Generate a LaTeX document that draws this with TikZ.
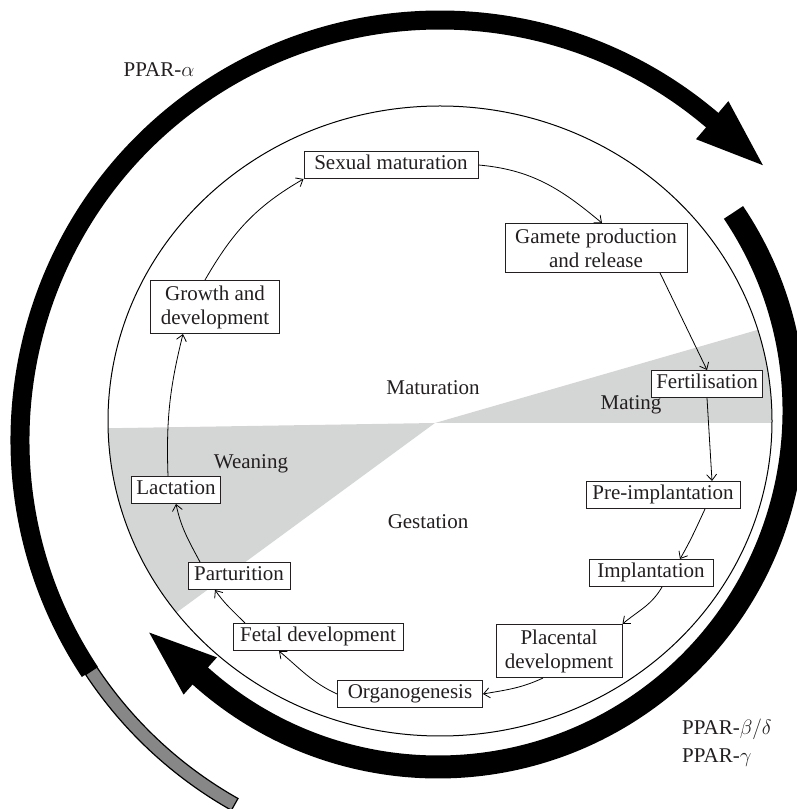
\documentclass[tikz,border=0pt]{standalone}
\usepackage{fontspec}
\setmainfont{Liberation Serif}
\usetikzlibrary{arrows.meta}
\definecolor{inkgray}{RGB}{35,31,32}
\definecolor{wedgegray}{RGB}{212,214,213}
\definecolor{bandgray}{RGB}{135,135,135}

\begin{document}
\begin{tikzpicture}
  [
    x=1pt, y=1pt,
    >={Straight Barb[length=6pt,width=10pt]},
    every node/.style={font=\fontsize{21}{24}\selectfont},
    stage box/.style={draw=inkgray, line width=1pt, fill=white, text=inkgray, inner xsep=2pt, inner ysep=3.5pt, text height=15pt, text depth=5pt},
    stage pair/.style={draw=inkgray, line width=1pt, fill=white, text=inkgray, inner xsep=2pt, inner ysep=5pt, align=center},
    phase/.style={text=inkgray, inner sep=0pt},
    link/.style={->, line width=0.8pt},
  ]
  \useasboundingbox (0,0) rectangle (796,809);

  % shaded wedges
  \begin{scope}
    \clip (440,388) ellipse [x radius=332, y radius=315];
    \fill [wedgegray] (435,386) -- (60,380) -- (60,111) -- cycle;
    \fill [wedgegray] (435,386) -- (830,500) -- (830,386) -- cycle;
  \end{scope}
  \draw [line width=1pt] (440,388) ellipse [x radius=332, y radius=315];

  % outer arrows
  \begin{scope}[shift={(440,369)}]
    \filldraw [fill=bandgray, line width=1.2pt] (240.6:411.5) arc [start angle=240.6, end angle=213.5, radius=411.5] -- (213.5:425) arc [start angle=213.5, end angle=240.6, radius=425] -- cycle;
    \draw [line width=19pt] (213.5:420) arc [start angle=213.5, end angle=49, radius=420];
    \fill (49.6:395) -- (40.4:424) -- (49.6:445) -- cycle;
  \end{scope}
  \begin{scope}[shift={(438,398)}]
    \draw [line width=23pt] (33.9:356) arc [start angle=33.9, end angle=-132.3, radius=356];
    \fill (-131.9:331) -- (-142.5:364) -- (-131.9:381) -- cycle;
  \end{scope}

  % stages
  \node [stage box, minimum width=174pt] (sexmat) at (391,644) {Sexual maturation};
  \node [stage pair, minimum width=182pt] (gamete) at (596,561) {Gamete production\\and release};
  \node [stage box, minimum width=111pt] (fert) at (707,425) {Fertilisation};
  \node [stage box, minimum width=154pt] (preimp) at (663,314) {Pre-implantation};
  \node [stage box, minimum width=124pt] (implant) at (651,236) {Implantation};
  \node [stage pair, minimum width=126pt] (placent) at (559,158) {Placental\\development};
  \node [stage box, minimum width=145pt] (organo) at (410,115) {Organogenesis};
  \node [stage box, minimum width=170pt] (fetal) at (318,172) {Fetal development};
  \node [stage box, minimum width=102pt] (partur) at (239,233) {Parturition};
  \node [stage box, minimum width=89pt] (lact) at (176,319) {Lactation};
  \node [stage pair, minimum width=129pt] (growth) at (215,502) {Growth and\\development};

  % phases
  \node [phase] (matur) at (433,421) {Maturation};
  \node [phase] (mating) at (631,404) {Mating};
  \node [phase] (wean) at (251,345) {Weaning};
  \node [phase] (gest) at (428,287) {Gestation};
  \node [phase] (ppara) at (159,739) {PPAR-$\alpha$};
  \node [phase, anchor=west, align=left, font=\fontsize{21}{28}\selectfont] (pparbg) at (682,66) {PPAR-$\beta/\delta$\\PPAR-$\gamma$};

  % cycle
  \draw [link] ([xshift=-10pt]growth.north) to [out=60, in=210] (sexmat.south west);
  \draw [link] (sexmat.east) to [out=-5, in=140] ([xshift=6pt]gamete.north);
  \draw [link] ([xshift=64pt]gamete.south) -- (fert.north);
  \draw [link] (fert.south) -- ([xshift=49pt]preimp.north);
  \draw [link] ([xshift=42pt]preimp.south) to [out=-115, in=60] ([xshift=29pt]implant.north);
  \draw [link] ([xshift=11pt]implant.south) to [out=-120, in=40] (placent.north east);
  \draw [link] ([xshift=-16pt]placent.south) to [out=-155, in=10] (organo.east);
  \draw [link] (organo.west) to [out=155, in=-40] ([xshift=-39pt]fetal.south);
  \draw [link] ([xshift=-73pt]fetal.north) to [out=135, in=-55] ([xshift=-24pt]partur.south);
  \draw [link] ([xshift=-39pt]partur.north) to [out=118, in=-78] (lact.south);
  \draw [link] ([xshift=-8pt]lact.north) to [out=92, in=-104] ([xshift=-32pt]growth.south);
\end{tikzpicture}
\end{document}
